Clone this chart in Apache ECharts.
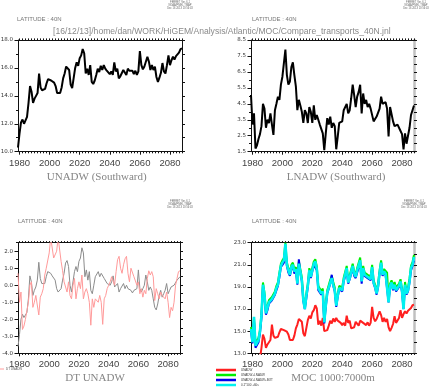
<!DOCTYPE html>
<html><head><meta charset="utf-8">
<script src="https://cdn.jsdelivr.net/npm/echarts@6/dist/echarts.min.js"></script>
<style>html,body{margin:0;padding:0;background:#fff}#c{width:431px;height:389px}</style>
</head><body><div id="c"></div>
<script>
const startYear = 1979, nYears = 110;
const years = []; for (let i = 0; i < nYears; i++) years.push(startYear + i);
const xTickLabels = [1980, 2000, 2020, 2040, 2060, 2080];

const unadw = [
 10.3, 11.3, 12.1, 12.3, 12.0, 12.1, 12.5, 13.5, 14.7, 14.3,
 13.5, 13.8, 14.0, 14.2, 15.6, 14.6, 14.4, 14.35, 14.5, 14.9,
 15.2, 15.25, 15.1, 15.0, 14.95, 14.7, 14.2, 14.1, 14.2, 14.6,
 15.25, 15.6, 16.1, 16.2, 15.85, 14.8, 14.55, 14.5, 16.0, 16.4,
 16.15, 16.7, 16.9, 17.35, 17.05, 15.6, 15.95, 15.5, 16.2, 15.0,
 14.85, 15.1, 15.5, 15.95, 15.7, 16.15, 15.85, 16.2, 15.95, 15.8,
 15.75, 15.55, 15.75, 15.5, 16.4, 15.75, 15.95, 15.25, 15.4, 15.35,
 15.85, 15.75, 15.5, 15.95, 15.8, 15.75, 15.8, 15.55, 15.8, 15.5,
 15.75, 17.2, 16.2, 15.9, 16.1, 16.2, 16.8, 16.45, 15.85, 16.2,
 15.85, 16.1, 15.35, 15.0, 15.3, 15.65, 16.35, 15.75, 15.6, 16.2,
 16.9, 16.2, 16.55, 16.8, 16.6, 16.85, 16.75, 17.1, 17.35, 17.4];

const lnadw = [
 5.05, 3.2, 3.9, 1.7, 1.9, 2.3, 2.6, 3.1, 4.5, 4.2,
 3.0, 3.5, 3.3, 3.9, 3.2, 2.55, 4.1, 4.5, 4.95, 4.75,
 5.7, 6.2, 6.3, 7.9, 6.3, 5.7, 5.9, 6.8, 7.1, 6.3,
 5.6, 4.1, 4.75, 4.4, 4.0, 3.3, 4.1, 3.9, 3.3, 4.3,
 4.0, 3.3, 4.4, 3.5, 3.8, 3.5, 3.2, 3.1, 2.65, 1.6,
 2.65, 3.6, 3.2, 3.7, 3.0, 3.3, 3.1, 1.65, 2.45, 3.3,
 3.3, 3.4, 4.1, 4.2, 4.5, 3.9, 4.1, 4.85, 5.7, 5.05,
 4.3, 4.95, 5.25, 5.7, 3.9, 5.15, 4.5, 4.75, 4.3, 4.5,
 4.2, 4.1, 3.4, 3.3, 3.7, 3.8, 4.2, 4.95, 4.5, 4.4,
 4.6, 4.2, 2.45, 4.3, 4.3, 3.4, 3.1, 3.2, 3.2, 3.1,
 2.8, 2.6, 1.65, 2.65, 2.0, 2.1, 3.0, 3.8, 3.9, 4.4];

const dtGray = [
 -3.6, -2.9, -2.0, -1.7, -1.9, -2.0, -1.6, -0.8, 0.55, 0.2,
 -0.6, -0.3, -0.1, 0.3, 1.35, 0.4, 0.1, 0.0, 0.1, 0.5,
 0.8, 0.85, 0.7, 0.55, 0.5, 0.3, -0.2, -0.4, -0.5, -0.2,
 0.3, 0.7, 1.3, 1.45, 1.1, 0.0, -0.4, -0.5, 0.8, 1.1,
 0.8, 1.4, 1.6, 2.2, 1.9, 0.5, 0.9, 0.3, 0.8, -0.3,
 -0.5, 0.0, 0.5, 0.6, 0.8, 0.5, 0.7, 0.6, 0.4, 0.3,
 0.1, 0.0, 0.0, 0.2, 0.55, -0.1, -0.2, 0.1, -0.4, -0.2,
 -0.1, 0.1, -0.2, 0.0, -0.2, -0.1, -0.3, -0.45, -0.3, -0.2,
 -0.2, 0.9, -0.2, -0.4, -0.2, 0.0, 0.6, 0.2, -0.3, -0.1,
 -0.3, -0.8, -1.3, -1.45, -1.1, -0.6, -0.3, -0.7, -0.5, -0.3,
 0.1, -0.5, -0.3, -0.1, -0.2, 0.0, -0.1, 0.3, 0.4, 0.5];

const dtUnadw = [
 0.7, -1.0, -0.4, -2.6, -2.4, -2.0, -1.5, -1.0, 0.0, 0.2,
 -1.3, -1.0, -0.6, -0.5, -1.75, -0.7, -0.5, -0.2, 0.6, 1.0,
 0.9, 1.9, 2.8, 2.8, 1.6, 1.6, 2.0, 2.8, 2.8, 1.4,
 0.85, 0.2, 0.3, -0.4, 0.2, -0.6, -0.8, 0.0, 0.4, -0.8,
 -0.2, 0.2, -0.2, 0.6, -0.8, -0.4, -0.2, -0.5, -1.0, -2.35,
 -0.8, -1.3, -0.8, -0.7, -1.0, -0.6, -1.0, -2.3, -0.8, -0.6,
 -0.2, 0.0, 0.2, 0.5, 0.6, 0.0, 0.8, 1.5, 1.7, 1.0,
 0.7, 1.2, 1.55, 1.7, 0.7, 0.2, 1.0, 1.1, 0.5, 0.4,
 0.0, 0.2, -0.5, -0.2, -0.7, -0.3, -0.5, 0.4, 0.85, 0.6,
 0.8, 0.5, -0.9, -0.2, -0.5, -0.8, -0.4, -0.6, -0.5, -0.8,
 -0.4, -1.0, -1.9, -1.3, -1.5, -1.0, 0.0, 0.4, 0.8, 0.85];

const mocGreen = [
 15.4, 14.3, 16.2, 13.9, 13.8, 14.4, 15.1, 16.6, 19.4, 18.5,
 16.8, 17.3, 17.8, 17.9, 18.1, 18.2, 18.6, 19.1, 19.4, 20.3,
 21.1, 21.4, 21.6, 23.0, 21.2, 20.7, 20.3, 21.0, 21.2, 20.6,
 20.8, 19.5, 21.3, 20.6, 19.85, 18.0, 17.2, 18.4, 19.3, 20.7,
 20.15, 20.0, 21.3, 21.5, 20.85, 19.1, 19.15, 18.6, 18.85, 16.0,
 17.5, 18.7, 18.7, 19.65, 20.0, 19.45, 18.95, 17.5, 18.4, 19.1,
 19.05, 18.95, 19.85, 19.7, 20.9, 19.65, 20.05, 20.1, 21.1, 20.4,
 20.15, 20.7, 20.75, 21.65, 19.7, 20.9, 20.3, 20.3, 20.1, 20.0,
 19.95, 21.0, 19.6, 19.2, 18.6, 19.3, 20.5, 21.4, 20.35, 20.6,
 20.45, 20.3, 17.8, 19.3, 19.6, 19.05, 19.45, 18.95, 18.8, 19.3,
 19.7, 18.8, 17.3, 19.45, 18.6, 18.95, 19.75, 20.9, 21.25, 21.9];

const mocBlue = [
 15.0, 13.9, 15.9, 13.5, 13.5, 14.0, 14.8, 16.2, 19.0, 18.1,
 16.5, 16.9, 17.5, 17.6, 17.8, 17.9, 18.3, 18.7, 19.1, 19.9,
 20.8, 21.0, 21.2, 22.5, 20.9, 20.3, 20.0, 20.6, 20.9, 20.2,
 20.5, 19.2, 21.5, 20.3, 19.5, 17.7, 17.0, 18.0, 19.0, 20.3,
 19.8, 19.7, 21.0, 21.1, 20.5, 18.7, 18.8, 18.3, 18.5, 15.7,
 17.2, 18.4, 18.4, 19.3, 20.1, 19.1, 18.6, 17.2, 18.1, 18.8,
 18.7, 18.6, 19.5, 19.4, 20.5, 19.3, 19.7, 19.8, 20.7, 20.0,
 19.8, 20.3, 20.4, 21.2, 19.3, 20.5, 20.0, 19.9, 19.8, 19.7,
 19.6, 20.6, 19.3, 18.9, 18.3, 19.0, 20.2, 21.0, 20.0, 20.3,
 20.1, 20.0, 17.6, 19.0, 19.3, 18.7, 19.1, 18.6, 18.5, 19.0,
 19.4, 18.5, 17.0, 19.1, 18.3, 18.6, 19.4, 20.5, 20.9, 21.4];

const mocCyan = [
 15.2, 14.0, 16.3, 13.7, 13.6, 14.2, 15.0, 16.4, 19.2, 18.3,
 16.6, 17.1, 17.6, 17.7, 17.9, 18.0, 18.4, 18.9, 19.2, 20.1,
 20.9, 21.2, 21.4, 22.9, 21.0, 20.5, 20.1, 20.8, 21.0, 20.4,
 20.6, 19.3, 21.1, 20.4, 19.6, 17.8, 17.0, 18.2, 19.1, 20.5,
 19.9, 19.8, 21.1, 21.3, 20.6, 18.9, 18.9, 18.4, 18.6, 15.8,
 17.3, 18.5, 18.5, 19.4, 19.8, 19.2, 18.7, 17.3, 18.2, 18.9,
 18.8, 18.7, 19.6, 19.5, 20.7, 19.4, 19.8, 19.9, 20.9, 20.2,
 19.9, 20.5, 20.5, 21.4, 19.5, 20.7, 20.1, 20.0, 19.9, 19.8,
 19.7, 20.8, 19.4, 19.0, 18.4, 19.1, 20.3, 21.2, 20.1, 20.4,
 20.2, 20.1, 17.6, 19.1, 19.4, 18.8, 19.2, 18.7, 18.6, 19.1,
 19.5, 18.6, 17.0, 19.2, 18.4, 18.7, 19.5, 20.7, 21.0, 21.7];

// tick label lists
const yMajor = [[10,12,14,16,18],[1.5,2.5,3.5,4.5,5.5,6.5,7.5,8.5],[-4,-3,-2,-1,0,1,2],[13,15,17,19,21,23]];
const yMinor = [[11,13,15,17],[2,3,4,5,6,7,8],[-3.5,-2.5,-1.5,-0.5,0.5,1.5,2.5],[14,16,18,20,22]];
const yRange = [[10,18],[1.5,8.5],[-4,2.5],[13,23]];

const xMinor = []; for (let y = 1980; y <= 2088; y += 2) xMinor.push(y);

const grids = [
  {left: 18, top: 40, width: 164, height: 111.7},
  {left: 251, top: 40, width: 163, height: 111.7},
  {left: 18, top: 242.7, width: 162, height: 110.6},
  {left: 251, top: 242.7, width: 163, height: 110.6}
].map(g => Object.assign({outerBoundsMode: 'none', containLabel: false, show: false}, g));

const axisCol = '#111';
const xAxes = [], yAxes = [];
for (let p = 0; p < 4; p++) {
  const base = {type: 'value', gridIndex: p, min: 1979, max: 2088, splitLine: {show: false}};
  xAxes.push(Object.assign({}, base, {position: 'bottom',
    axisLine: {onZero: false, lineStyle: {color: axisCol, width: 1}},
    axisTick: {customValues: xTickLabels, length: 3, lineStyle: {color: axisCol}},
    axisLabel: {customValues: xTickLabels, formatter: v => String(v), margin: p < 2 ? 7 : 6,
      fontSize: 9.5, fontFamily: '"Liberation Sans Narrow", "Liberation Sans", sans-serif', color: '#444'}}));
  xAxes.push(Object.assign({}, base, {position: 'bottom', axisLine: {show: false, onZero: false},
    axisTick: {customValues: xMinor, length: 1.6, lineStyle: {color: axisCol}}, axisLabel: {show: false}}));
  xAxes.push(Object.assign({}, base, {position: 'top',
    axisLine: {onZero: false, lineStyle: {color: axisCol, width: 1}},
    axisTick: {customValues: xMinor, length: 1.6, lineStyle: {color: axisCol}}, axisLabel: {show: false}}));
  const yb = {type: 'value', gridIndex: p, min: yRange[p][0], max: yRange[p][1], splitLine: {show: false}};
  yAxes.push(Object.assign({}, yb, {position: 'left',
    axisLine: {show: true, onZero: false, lineStyle: {color: axisCol, width: 1}},
    axisTick: {show: true, customValues: yMajor[p], length: 3.5, lineStyle: {color: axisCol}},
    axisLabel: {customValues: yMajor[p], formatter: v => v.toFixed(1), margin: 5,
      fontSize: 5.5, fontFamily: '"DejaVu Sans", sans-serif', color: '#333'}}));
  yAxes.push(Object.assign({}, yb, {position: 'left', axisLine: {show: false, onZero: false},
    axisTick: {show: true, customValues: yMinor[p], length: 2, lineStyle: {color: axisCol}}, axisLabel: {show: false}}));
  const rightGray = (p === 1 || p === 3);
  yAxes.push(Object.assign({}, yb, {position: 'right',
    axisLine: {show: true, onZero: false, lineStyle: {color: rightGray ? '#c0c0c0' : axisCol, width: rightGray ? 2.5 : 1}},
    axisTick: {show: true, customValues: yMajor[p].concat(yMinor[p]), length: 3, lineStyle: {color: axisCol}},
    axisLabel: {show: false}}));
}

function pts(arr) { return years.map((y, i) => [y, arr[i]]); }
function line(name, arr, p, color, width, z) {
  return {type: 'line', name, data: pts(arr), xAxisIndex: 3 * p, yAxisIndex: 3 * p,
    showSymbol: false, symbol: 'none', clip: true, z: z || 2,
    lineStyle: {color, width}, itemStyle: {color}, emphasis: {disabled: true}};
}

const series = [
  line('UNADW (Southward)', unadw, 0, '#000', 2),
  line('LNADW (Southward)', lnadw, 1, '#000', 2),
  line('DT UNADW gray', dtGray, 2, '#8c8c8c', 1),
  line('DT UNADW', dtUnadw, 2, '#ff9a9a', 1),
  line('UNADW', unadw, 3, '#ff2020', 2),
  line('UNADW+LNADW', mocGreen, 3, '#00ee00', 2),
  line('UNADW+LNADW+BOT', mocBlue, 3, '#0000ee', 2),
  line('0.1*100 +60s', mocCyan, 3, '#00f0f0', 2.6)
];

const ferretLines = ['FERRET Ver. 6.1', 'NOAA/PMEL TMAP', 'Dec 16 2013 13:56:43'];
const graphic = [];
function txt(x, y, text, size, family, fill, align) {
  graphic.push({type: 'text', x, y, silent: true, style: {text, fontSize: size, fontFamily: family,
    fill, align: align || 'left', verticalAlign: 'middle'}});
}
[[180, 2], [416, 2], [180, 201], [414, 201]].forEach(([cx, cy]) => {
  ferretLines.forEach((t, i) => txt(cx, cy + i * 3, t, 2.6, 'Liberation Sans', '#666', 'center'));
});
txt(53, 32, '[16/12/13]/home/dan/WORK/HiGEM/Analysis/Atlantic/MOC/Compare_transports_40N.jnl', 8.6, 'Liberation Sans', '#8a8a8a');
[[17, 19], [252, 19], [18, 221], [252, 221]].forEach(([x, y]) => txt(x, y, 'LATITUDE : 40N', 6, 'Liberation Sans', '#777'));
const serif = '"Liberation Serif", serif';
txt(96.7, 177, 'UNADW (Southward)', 11, serif, '#858585', 'center');
txt(336, 177, 'LNADW (Southward)', 11, serif, '#858585', 'center');
txt(95, 378, 'DT UNADW', 11, serif, '#858585', 'center');
txt(333, 378, 'MOC 1000:7000m', 11, serif, '#858585', 'center');

const option = {
  animation: false,
  backgroundColor: '#fff',
  grid: grids,
  xAxis: xAxes,
  yAxis: yAxes,
  series,
  legend: [
    {data: ['DT UNADW'], left: 0, top: 367.5, padding: 0, icon: 'rect', itemWidth: 4, itemHeight: 1,
      itemGap: 2, selectedMode: false, textStyle: {fontSize: 3, color: '#555', padding: [0, 0, 0, -3]}},
    {data: ['UNADW', 'UNADW+LNADW', 'UNADW+LNADW+BOT', '0.1*100 +60s'], orient: 'vertical',
      left: 216, top: 368.5, padding: 0, icon: 'rect', itemWidth: 20, itemHeight: 2.5, itemGap: 2,
      selectedMode: false, textStyle: {fontSize: 3, color: '#333', lineHeight: 3}}
  ],
  graphic
};
const chart = echarts.init(document.getElementById('c'), null, {renderer: 'canvas'});
chart.setOption(option);
</script></body></html>
